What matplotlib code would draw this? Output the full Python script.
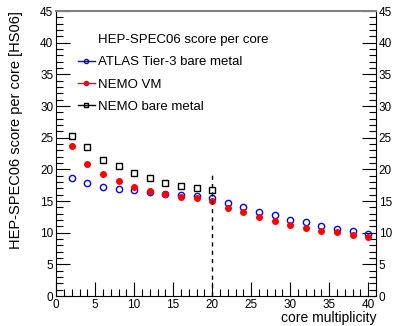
import matplotlib
matplotlib.use("Agg")
import matplotlib.pyplot as plt
from matplotlib.ticker import MultipleLocator

plt.rcParams['font.family'] = ['Liberation Sans', 'DejaVu Sans']

# core multiplicity
cores = [2, 4, 6, 8, 10, 12, 14, 16, 18, 20, 22, 24, 26, 28, 30, 32, 34, 36, 38, 40]
atlas_t3 = [18.6, 17.85, 17.2, 16.9, 16.75, 16.4, 16.1, 16.0, 15.75, 15.5,
            14.75, 14.1, 13.3, 12.75, 12.05, 11.65, 11.1, 10.6, 10.2, 9.85]
nemo_vm = [23.7, 20.9, 19.3, 18.2, 17.2, 16.6, 16.07, 15.65, 15.45, 15.0,
           13.95, 13.2, 12.4, 11.8, 11.2, 10.75, 10.3, 10.05, 9.6, 9.25]
cores_bare = [2, 4, 6, 8, 10, 12, 14, 16, 18, 20]
nemo_bare = [25.3, 23.5, 21.5, 20.5, 19.5, 18.7, 17.85, 17.3, 17.0, 16.7]
phys_cores = 20
dash_top = 19.3

fig = plt.figure(figsize=(3.95, 3.26), dpi=100)
ax = fig.add_axes([0.142, 0.092, 0.810, 0.874])

ax.plot(cores, atlas_t3, ls='none', marker='o', ms=4.5, mfc='none',
        mec='blue', mew=1.0, label='ATLAS Tier-3 bare metal')
ax.plot(cores, nemo_vm, ls='none', marker='o', ms=4, mfc='red',
        mec='red', label='NEMO VM')
ax.plot(cores_bare, nemo_bare, ls='none', marker='s', ms=4.5, mfc='none',
        mec='black', mew=1.0, label='NEMO bare metal')
ax.plot([phys_cores, phys_cores], [0, dash_top], color='black', ls='--',
        lw=1.0, dashes=(3, 3))

ax.set_xlim(0, 41)
ax.set_ylim(0, 45)
ax.xaxis.set_major_locator(MultipleLocator(5))
ax.xaxis.set_minor_locator(MultipleLocator(1))
ax.yaxis.set_major_locator(MultipleLocator(5))
ax.yaxis.set_minor_locator(MultipleLocator(1))
ax.tick_params(which='both', direction='in', top=False, right=True,
               labelright=True, labelsize=8.5, pad=2)
ax.tick_params(which='major', length=10, width=0.8)
ax.tick_params(which='minor', length=5, width=0.8)
for s in ['left', 'right', 'bottom']:
    ax.spines[s].set_linewidth(0.8)
ax.spines['top'].set_color('gray')
ax.spines['top'].set_linewidth(1.5)

ax.set_xlabel('core multiplicity', fontsize=10, loc='right')
ax.xaxis.set_label_coords(1.0, -0.052)
ax.set_ylabel('HEP-SPEC06 score per core [HS06]', fontsize=10.5, loc='top',
              labelpad=12)

handles, labels = ax.get_legend_handles_labels()
colors = ['blue', 'red', 'black']
leg_handles = []
for h, c in zip(handles, colors):
    ln = plt.Line2D([], [], color=c, lw=1.0, marker=h.get_marker(),
                    ms=3, mfc=h.get_markerfacecolor(), mec=c)
    leg_handles.append(ln)
leg = ax.legend(leg_handles, labels, title='HEP-SPEC06 score per core',
                loc='upper left', bbox_to_anchor=(0.031, 0.96), frameon=False,
                fontsize=9.5, title_fontsize=9.5, handlelength=1.3,
                handletextpad=0.25, labelspacing=0.75)
leg._legend_box.align = 'left'
leg.get_title().set_position((20, 0))

fig.savefig('out.png', dpi=100)
